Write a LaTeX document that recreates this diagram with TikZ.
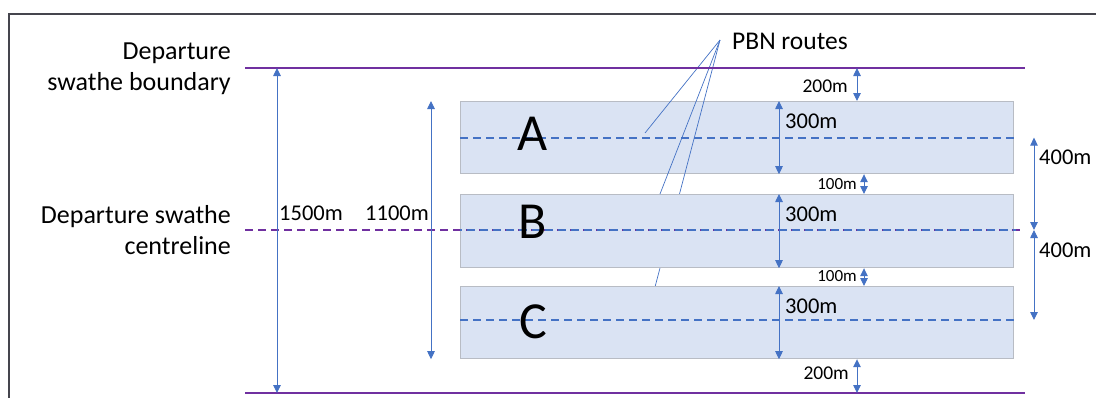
\documentclass[tikz,border=0pt]{standalone}
\usepackage{fontspec}
\setmainfont{Carlito}
\usetikzlibrary{arrows.meta}
\definecolor{purp}{HTML}{7030A0}
\definecolor{blu}{HTML}{4472C4}
\definecolor{boxfill}{HTML}{DAE3F3}
\definecolor{boxline}{HTML}{B8BCC4}
\definecolor{framec}{HTML}{45454D}
\begin{document}
\begin{tikzpicture}[x=1pt,y=-1pt,
  band/.style={draw=boxline, line width=1.2pt, fill=boxfill, minimum width=553pt, inner sep=0pt, anchor=north west},
  bound/.style={draw=purp, line width=2.8pt},
  cdash/.style={draw=purp, line width=2.2pt, dash pattern=on 8pt off 5pt},
  route/.style={draw=blu, line width=2pt, dash pattern=on 8pt off 5pt},
  dimarr/.style={draw=blu, line width=0.9pt, {Triangle[length=8pt,width=7.5pt]}-{Triangle[length=8pt,width=7.5pt]}},
  lead/.style={draw=blu, line width=0.7pt},
  sidetxt/.style={font=\fontsize{26}{31}\selectfont, align=right, inner sep=0pt, anchor=east},
  lab/.style={font=\fontsize{22.5}{26}\selectfont, inner sep=0pt},
  labs/.style={font=\fontsize{19.5}{23}\selectfont, inner sep=0pt},
  labxs/.style={font=\fontsize{17}{20}\selectfont, inner sep=0pt},
  letter/.style={font=\fontsize{52}{60}\selectfont, inner sep=0pt}
]
\useasboundingbox (0,0) rectangle (1096,397);
% frame
\coordinate (fbl) at (8.5,400);
\coordinate (ftl) at (8.5,14);
\coordinate (ftr) at (1100,14);
\draw[framec, line width=2pt] (fbl) -- (ftl) -- (ftr);

% key coordinates
\coordinate (topL) at (245,68);  \coordinate (topR) at (1025,68);
\coordinate (botL) at (245,393); \coordinate (botR) at (1025,393);
\coordinate (cenL) at (245,230); \coordinate (cenR) at (1020,230);
\coordinate (x1500) at (277,0);
\coordinate (x1100) at (431,0);
\coordinate (x300) at (779,0);
\coordinate (x200) at (857,0);
\coordinate (x100) at (864,0);
\coordinate (x400) at (1034,0);
\coordinate (pbn) at (720,40);
\coordinate (endA) at (645,133);
\coordinate (endC) at (655,287);
\coordinate (routeC) at (460,320);

% boxes and leaders
\node[band, minimum height=72pt] (boxA) at (460,101) {};
\node[lab, anchor=west, font=\fontsize{25.5}{30}\selectfont] (pbnlab) at (732,41) {PBN routes};
\draw[lead] (pbn) -- (endA);
\draw[lead] (pbn) -- (endC);
\node[band, minimum height=73pt] (boxB) at (460,194) {};
\coordinate (endB) at (660,194);
\draw[lead] (pbn) -- (endB);
\node[band, minimum height=72pt] (boxC) at (460,286) {};

% boundaries
\draw[bound] (topL) -- (topR);
\draw[bound] (botL) -- (botR);
\draw[cdash] (cenL) -- (cenR);

% routes
\draw[route] (boxA.west) -- ([xshift=2pt]boxA.east);
\draw[route, dash phase=6.5pt] (boxB.west |- cenL) -- ([xshift=2pt]boxB.east |- cenL);
\draw[route] (routeC) -- ([xshift=2pt]boxC.east |- routeC);

% letters
\node[letter] (la) at (533,134) {A};
\node[letter] (lb) at (533,222) {B};
\node[letter] (lc) at (533,322) {C};

% side texts
\node[sidetxt] (t1) at (231,69) {Departure\\swathe boundary};
\node[sidetxt] (t2) at (231,230) {Departure swathe\\centreline};

% dimension arrows
\draw[dimarr] (x1500 |- topL) -- (x1500 |- botL);
\draw[dimarr] (x1100 |- boxA.north) -- (x1100 |- boxC.south);
\draw[dimarr] (x300 |- boxA.north) -- (x300 |- boxA.south);
\draw[dimarr] (x300 |- boxB.north) -- (x300 |- boxB.south);
\draw[dimarr] (x300 |- boxC.north) -- (x300 |- boxC.south);
\draw[dimarr] (x200 |- topL) -- (x200 |- boxA.north);
\draw[dimarr] (x100 |- boxA.south) -- (x100 |- boxB.north);
\draw[dimarr] (x100 |- boxB.south) -- (x100 |- boxC.north);
\draw[dimarr] (x200 |- boxC.south) -- (x200 |- botL);
\draw[dimarr] (x400 |- boxA.center) -- (x400 |- cenL);
\draw[dimarr] (x400 |- cenL) -- (x400 |- routeC);

% labels
\node[lab, anchor=west] (l1500) at (279,213) {1500m};
\node[lab, anchor=east] (l1100) at (429,213) {1100m};
\node[lab, anchor=west] (l300a) at (785,121) {300m};
\node[lab, anchor=west] (l300b) at (785,214) {300m};
\node[lab, anchor=west] (l300c) at (785,306) {300m};
\node[labs, anchor=east] (l200a) at (848,86) {200m};
\node[labxs, anchor=east] (l100a) at (857,184) {100m};
\node[labxs, anchor=east] (l100b) at (857,276) {100m};
\node[labs, anchor=east] (l200b) at (849,373) {200m};
\node[lab, anchor=west] (l400a) at (1039,157) {400m};
\node[lab, anchor=west] (l400b) at (1039,250) {400m};
\end{tikzpicture}
\end{document}
